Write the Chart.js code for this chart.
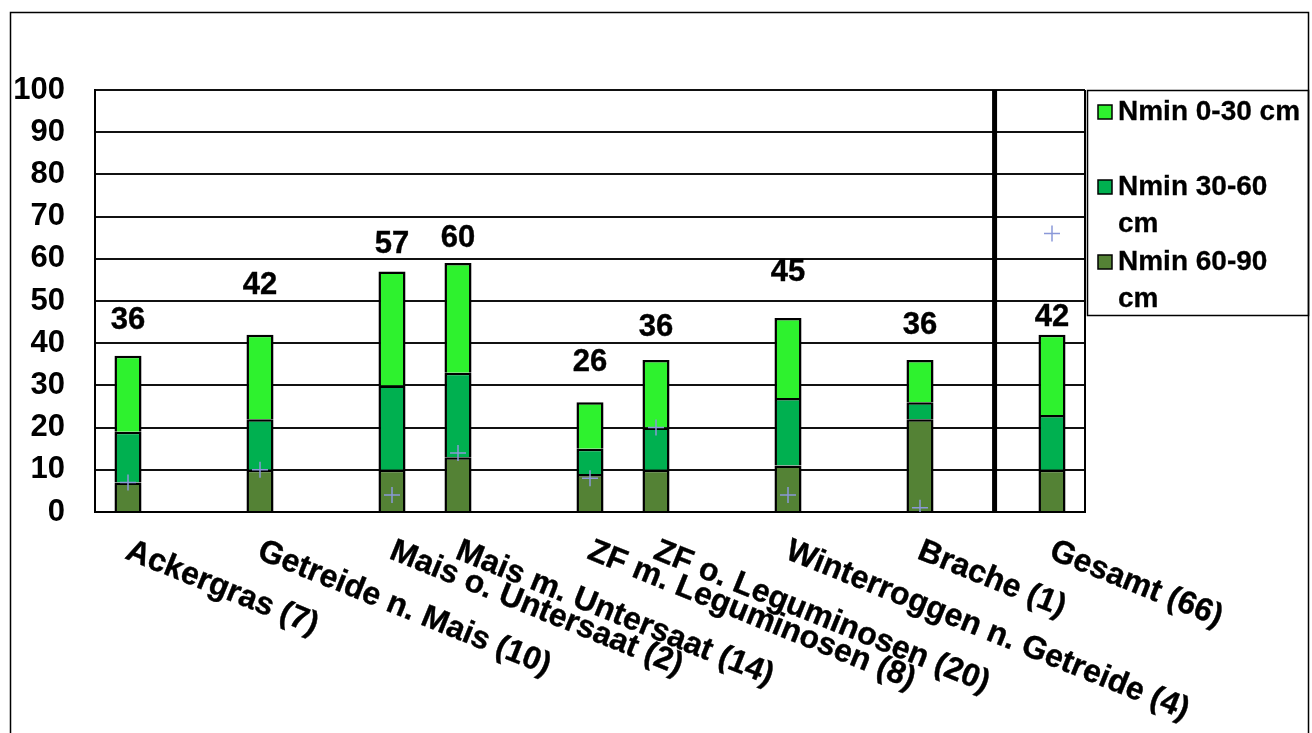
<!DOCTYPE html>
<html>
<head>
<meta charset="utf-8">
<script src="https://cdn.jsdelivr.net/npm/chart.js@4.4.0/dist/chart.umd.min.js"></script>
<style>
html,body{margin:0;padding:0;background:#fff;overflow:hidden}
#wrap{width:1312px;height:733px;position:relative}
canvas{display:block}
</style>
</head>
<body>
<div id="wrap"><canvas id="c" width="1312" height="733"></canvas></div>
<script>
// ---- data ----
const categories = [
  'Ackergras (7)', '', 'Getreide n. Mais (10)', '', 'Mais o. Untersaat (2)',
  'Mais m. Untersaat (14)', '', 'ZF m. Leguminosen (8)', 'ZF o. Leguminosen (20)', '',
  'Winterroggen n. Getreide (4)', '', 'Brache (1)', '', 'Gesamt (66)'
];
const nmin6090 = [7, null, 10, null, 10, 13, null, 9, 10, null, 11, null, 22, null, 10];
const nmin3060 = [12, null, 12, null, 20, 20, null, 6, 10, null, 16, null, 4, null, 13];
const nmin030  = [18, null, 20, null, 27, 26, null, 11, 16, null, 19, null, 10, null, 19];
const sampleCounts = [7, null, 10, null, 4, 14, null, 8, 20, null, 4, null, 1, null, 66];
const totalLabels = ['36', null, '42', null, '57', '60', null, '26', '36', null, '45', null, '36', null, '42'];
const totalLabelHeights = [45.4, null, 53.8, null, 63.3, 64.9, null, 35.5, 43.8, null, 56.8, null, 44.2, null, 46.2];
const dividerAt = 13.13;            // category position of the separator line
const yTicks = [0, 10, 20, 30, 40, 50, 60, 70, 80, 90, 100];

const FONT = '"Liberation Sans", Arial, Helvetica, sans-serif';
const C030 = '#2EF22E', C3060 = '#00B050', C6090 = '#548235';

function boldText(ctx, t, x, y, sw) {
  ctx.fillText(t, x, y);
  if (sw) { ctx.lineWidth = sw; ctx.strokeText(t, x, y); }
}

const overlay = {
  id: 'overlay',
  afterDraw(chart) {
    const ctx = chart.ctx;
    const ca = chart.chartArea;
    const xs = chart.scales.x, ys = chart.scales.y;
    ctx.save();
    // outer frame
    ctx.strokeStyle = '#000';
    ctx.lineWidth = 1.5;
    ctx.strokeRect(10.5, 12.5, 1298, 760);
    // plot right border
    ctx.lineWidth = 2;
    ctx.beginPath();
    ctx.moveTo(ca.right, ca.top);
    ctx.lineTo(ca.right, ca.bottom);
    ctx.stroke();
    // divider
    const dx = xs.getPixelForValue(dividerAt);
    ctx.lineWidth = 5;
    ctx.beginPath();
    ctx.moveTo(dx, ys.getPixelForValue(100));
    ctx.lineTo(dx, ys.getPixelForValue(0));
    ctx.stroke();

    // total labels
    ctx.fillStyle = '#000';
    ctx.strokeStyle = '#000';
    ctx.font = 'bold 31px ' + FONT;
    ctx.textAlign = 'center';
    ctx.textBaseline = 'middle';
    totalLabels.forEach((t, i) => {
      if (t === null) return;
      boldText(ctx, t, xs.getPixelForValue(i), ys.getPixelForValue(totalLabelHeights[i]), 0.4);
    });

    // rotated category labels
    ctx.textAlign = 'left';
    ctx.textBaseline = 'alphabetic';
    ctx.font = 'bold 32px ' + FONT;
    const ang = 22 * Math.PI / 180;
    categories.forEach((lab, i) => {
      if (!lab) return;
      const x = xs.getPixelForValue(i);
      ctx.save();
      ctx.translate(x - 4, ca.bottom + 46);
      ctx.rotate(ang);
      boldText(ctx, lab, 0, 0, 0.4);
      ctx.restore();
    });

    // legend
    const lx = 1087.5, ly = 90.5, lw = 221, lh = 225;
    ctx.lineWidth = 1.5;
    ctx.strokeRect(lx, ly, lw, lh);
    ctx.font = 'bold 28px ' + FONT;
    ctx.textBaseline = 'middle';
    const items = chart.data.datasets.filter(d => d.type !== 'line').slice().reverse();
    const maxW = 186;
    items.forEach((d, k) => {
      const cy = 112 + k * 75;
      ctx.fillStyle = d.backgroundColor;
      ctx.fillRect(1098, cy - 7, 14, 14);
      ctx.lineWidth = 1.5;
      ctx.strokeStyle = '#000';
      ctx.strokeRect(1098, cy - 7, 14, 14);
      ctx.fillStyle = '#000';
      const words = d.label.split(' ');
      const lines = [];
      let cur = '';
      words.forEach(w => {
        const test = cur ? cur + ' ' + w : w;
        if (ctx.measureText(test).width > maxW && cur) { lines.push(cur); cur = w; }
        else cur = test;
      });
      lines.push(cur);
      lines.forEach((ln, j) => boldText(ctx, ln, 1118, cy + j * 37, 0.3));
    });
    ctx.restore();
  }
};

new Chart(document.getElementById('c'), {
  type: 'bar',
  data: {
    labels: categories,
    datasets: [
      { label: 'Nmin 60-90 cm', data: nmin6090, backgroundColor: C6090, borderColor: '#000', borderWidth: 2.5, order: 2 },
      { label: 'Nmin 30-60 cm', data: nmin3060, backgroundColor: C3060, borderColor: '#000', borderWidth: 2.5, order: 2 },
      { label: 'Nmin 0-30 cm',  data: nmin030,  backgroundColor: C030,  borderColor: '#000', borderWidth: 2.5, order: 2 },
      { type: 'line', label: 'Anzahl', data: sampleCounts, showLine: false, pointStyle: 'cross',
        pointRadius: 8, pointBorderColor: '#8a98d8', pointBorderWidth: 1.5, borderColor: '#8a98d8', order: 0 }
    ]
  },
  options: {
    responsive: false,
    animation: false,
    devicePixelRatio: 1,
    layout: { padding: { top: 90, right: 227, bottom: 0, left: 0 } },
    plugins: { legend: { display: false }, tooltip: { enabled: false } },
    datasets: { bar: { barPercentage: 0.41, categoryPercentage: 1 } },
    scales: {
      x: {
        stacked: true,
        offset: true,
        grid: { display: false },
        border: { display: true, color: '#000', width: 2 },
        ticks: { display: false },
        afterFit(s) { s.height = 221; }
      },
      y: {
        stacked: true,
        min: 0, max: 100,
        afterBuildTicks(s) { s.ticks = yTicks.map(v => ({ value: v })); },
        ticks: { color: '#000', font: { family: FONT, size: 31, weight: 'bold' }, padding: 30 },
        grid: { color: '#111', lineWidth: 2, drawTicks: false },
        border: { display: true, color: '#000', width: 2 },
        afterFit(s) { s.width = 95; }
      }
    }
  },
  plugins: [overlay]
});
</script>
</body>
</html>
